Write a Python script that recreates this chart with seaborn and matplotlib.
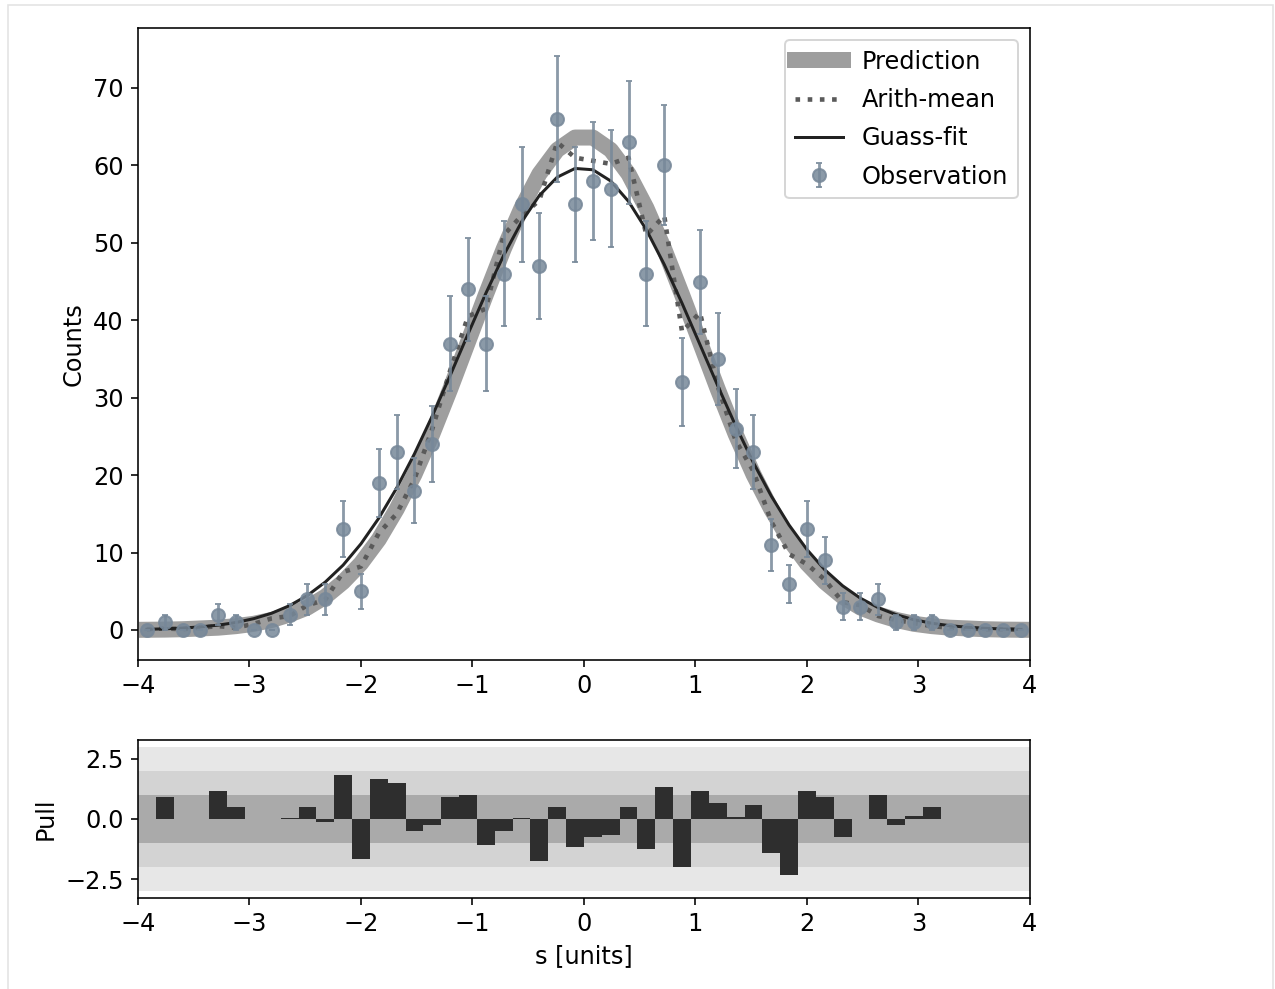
import numpy as np
import matplotlib
matplotlib.use("Agg")
import matplotlib.pyplot as plt
from matplotlib.patches import Rectangle
import seaborn as sns

plt.rcParams["font.size"] = 12

# 50 bins of width 0.16 between -4 and 4
bin_edges = np.linspace(-4, 4, 51)
bin_centers = 0.5 * (bin_edges[:-1] + bin_edges[1:])
bin_width = 0.16

obs_counts = [0, 1, 0, 0, 2, 1, 0, 0, 2, 4,
              4, 13, 5, 19, 23, 18, 24, 37, 44, 37,
              46, 55, 47, 66, 55, 58, 57, 63, 46, 60,
              32, 45, 35, 26, 23, 11, 6, 13, 9, 3,
              3, 4, 1, 1, 1, 0, 0, 0, 0, 0]

# expected counts
prediction = [0.03, 0.05, 0.1, 0.2, 0.3, 0.5, 0.8, 1.3, 2.0, 2.9,
              4.3, 6.2, 8.6, 11.7, 15.6, 20.1, 25.3, 31.1, 37.2, 43.3,
              49.2, 54.5, 58.9, 62.0, 63.6, 63.6, 62.0, 58.9, 54.5, 49.2,
              43.3, 37.2, 31.1, 25.3, 20.1, 15.6, 11.7, 8.6, 6.2, 4.3,
              2.9, 2.0, 1.3, 0.8, 0.5, 0.3, 0.2, 0.1, 0.05, 0.03]

# arithmetic mean of the toy histograms
arith_mean = [0.1, 0.2, 0.1, 0.3, 0.5, 0.3, 0.8, 1.5, 1.8, 3.2,
              3.9, 7.5, 8.2, 12.5, 15.0, 19.5, 26.0, 33.5, 40.5, 41.5,
              51.0, 53.5, 55.5, 63.0, 61.0, 60.6, 60.2, 61.0, 51.0, 53.5,
              38.5, 41.0, 31.5, 24.5, 20.5, 14.0, 9.8, 8.5, 6.5, 3.6,
              3.2, 1.8, 1.3, 0.9, 0.5, 0.3, 0.2, 0.1, 0.1, 0.0]

# gaussian fit to the observation
gauss_fit = [0.09, 0.15, 0.25, 0.40, 0.63, 0.97, 1.47, 2.17, 3.15, 4.46,
             6.19, 8.38, 11.13, 14.44, 18.33, 22.76, 27.65, 32.87, 38.22, 43.48,
             48.39, 52.69, 56.12, 58.48, 59.61, 59.44, 57.99, 55.35, 51.68, 47.21,
             42.19, 36.88, 31.54, 26.39, 21.60, 17.30, 13.55, 10.39, 7.78, 5.71,
             4.10, 2.88, 1.98, 1.33, 0.87, 0.56, 0.35, 0.22, 0.13, 0.08]

# pull per bin (0 where the bin is empty)
pull = [0.0, 0.91, 0.0, 0.0, 1.16, 0.49, 0.0, 0.0, 0.03, 0.49,
        -0.14, 1.84, -1.66, 1.66, 1.49, -0.49, -0.24, 0.91, 1.0, -1.09,
        -0.49, 0.05, -1.75, 0.49, -1.16, -0.74, -0.66, 0.49, -1.24, 1.33,
        -2.0, 1.16, 0.67, 0.07, 0.59, -1.41, -2.33, 1.16, 0.91, -0.74,
        0.02, 1.0, -0.24, 0.14, 0.49, 0.0, 0.0, 0.0, 0.0, 0.0]

obs_err = np.sqrt(obs_counts)

# -----------------------------
# Figure
# -----------------------------
dpi = 144
fig = plt.figure(figsize=(1275 / dpi, 989 / dpi), dpi=dpi)
ax = fig.add_axes([0.1082, 0.3327, 0.6996, 0.6390])
ax_pull = fig.add_axes([0.1082, 0.0920, 0.6996, 0.1598])

# top panel
sns.lineplot(x=bin_centers, y=prediction, ax=ax, color="#9e9e9e", linewidth=8,
             label="Prediction")
sns.lineplot(x=bin_centers, y=arith_mean, ax=ax, color="#5a5a5a", linewidth=2.3,
             linestyle=":", label="Arith-mean")
sns.lineplot(x=bin_centers, y=gauss_fit, ax=ax, color="#222222", linewidth=1.5,
             label="Guass-fit")
ax.errorbar(bin_centers, obs_counts, yerr=obs_err, fmt="o", color="lightslategray",
            ms=6.5, elinewidth=1.4, capsize=1.5, alpha=0.85, label="Observation")

ax.set_xlim(-4, 4)
ax.set_ylim(-3.87, 77.75)
ax.set_ylabel("Counts")
ax.legend(loc="upper right", labelspacing=0.6)

# pull panel
ax_pull.axhspan(-3, 3, color="#e7e7e7", lw=0)
ax_pull.axhspan(-2, 2, color="#d3d3d3", lw=0)
ax_pull.axhspan(-1, 1, color="#aaaaaa", lw=0)
ax_pull.bar(bin_centers, pull, width=bin_width, color="#2e2e2e", linewidth=0)
ax_pull.set_xlim(-4, 4)
ax_pull.set_ylim(-3.28, 3.28)
ax_pull.set_yticks([-2.5, 0.0, 2.5])
ax_pull.set_ylabel("Pull")
ax_pull.set_xlabel("s [units]")

# light frame around the output, like the notebook cell
fig.patches.append(Rectangle((8 / 1275, -0.02), 1265 / 1275, 1 - 5 / 989 + 0.02,
                             transform=fig.transFigure, fill=False,
                             edgecolor="#e3e3e3", linewidth=0.8))

fig.savefig("out.png", dpi=dpi)
